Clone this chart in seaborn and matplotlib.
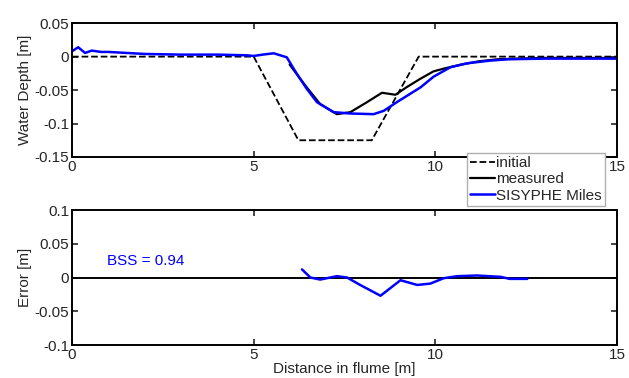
import numpy as np
import pandas as pd
import matplotlib
matplotlib.use("Agg")
import matplotlib.pyplot as plt
import seaborn as sns

# initial bed profile
init_x = [0, 5.0, 6.23, 8.25, 9.54, 15]
init_y = [0, 0, -0.125, -0.125, 0, 0]

# measured
meas_x = [5.99, 6.46, 6.83, 7.29, 7.66, 8.12, 8.53, 8.9, 9.2, 9.59, 9.95, 10.3, 10.7, 11.2, 11.7, 12.2, 13.0, 15.0]
meas_y = [-0.012, -0.046, -0.071, -0.086, -0.083, -0.068, -0.054, -0.057, -0.046, -0.033, -0.022,
          -0.017, -0.012, -0.007, -0.004, -0.003, -0.002, -0.002]

# SISYPHE Miles
sis_x = [0.0, 0.17, 0.36, 0.54, 0.8, 1.0, 2.0, 3.0, 4.0, 4.8, 5.0, 5.25, 5.55, 5.91, 6.19, 6.46, 6.74, 7.2,
         7.66, 8.3, 8.58, 8.94, 9.59, 9.95, 10.41, 10.87, 11.5, 12.0, 13.0, 15.0]
sis_y = [0.008, 0.014, 0.0055, 0.009, 0.007, 0.007, 0.004, 0.003, 0.003, 0.002, 0.001, 0.003, 0.005, -0.001,
         -0.026, -0.048, -0.068, -0.083, -0.085, -0.086, -0.081, -0.068, -0.046, -0.030, -0.016, -0.010,
         -0.006, -0.004, -0.003, -0.003]

# error
err_x = [6.33, 6.56, 6.83, 7.29, 7.57, 7.93, 8.49, 9.04, 9.5, 9.86, 10.23, 10.6, 11.15, 11.8, 12.04, 12.53]
err_y = [0.012, 0.0, -0.003, 0.002, 0.0, -0.011, -0.027, -0.004, -0.011, -0.009, -0.001, 0.002, 0.003, 0.001,
         -0.002, -0.002]

bss_text = "BSS = 0.94"

sns.set_style("ticks")
plt.rcParams['font.family'] = ['Liberation Sans', 'DejaVu Sans']
plt.rcParams['font.size'] = 11

fig = plt.figure(figsize=(6.29, 3.78), dpi=100)
ax1 = fig.add_axes([0.1145, 0.5847, 0.8665, 0.354])
ax2 = fig.add_axes([0.1145, 0.0873, 0.8665, 0.357])

sns.lineplot(x=init_x, y=init_y, ax=ax1, color="black", linestyle="--", lw=1.3, label="initial", legend=False)
sns.lineplot(x=meas_x, y=meas_y, ax=ax1, color="black", lw=1.6, label="measured", legend=False)
sns.lineplot(x=sis_x, y=sis_y, ax=ax1, color="#0000ff", lw=1.8, label="SISYPHE Miles", legend=False)

ax1.set_xlim(0, 15)
ax1.set_ylim(-0.15, 0.05)
ax1.set_yticks([-0.15, -0.1, -0.05, 0, 0.05])
ax1.set_yticklabels(["-0.15", "-0.1", "-0.05", "0", "0.05"])
ax1.set_xticks([0, 5, 10, 15])
ax1.set_ylabel("Water Depth [m]", labelpad=2)

ax2.axhline(0, color="black", lw=1.4)
sns.lineplot(x=err_x, y=err_y, ax=ax2, color="#0000ff", lw=1.8)
ax2.text(0.96, 0.025, bss_text, color="#0000ff", va="center", ha="left", fontsize=11)
ax2.set_xlim(0, 15)
ax2.set_ylim(-0.1, 0.1)
ax2.set_yticks([-0.1, -0.05, 0, 0.05, 0.1])
ax2.set_yticklabels(["-0.1", "-0.05", "0", "0.05", "0.1"])
ax2.set_xticks([0, 5, 10, 15])
ax2.set_xlabel("Distance in flume [m]", labelpad=0)
ax2.set_ylabel("Error [m]", labelpad=2)

for ax in (ax1, ax2):
    for s in ax.spines.values():
        s.set_visible(True)
        s.set_linewidth(1.4)
        s.set_color("black")
    ax.tick_params(direction="in", top=True, right=True, length=4, width=1.2, labelsize=11, pad=2)

h, l = ax1.get_legend_handles_labels()
fig.legend(h, l, loc="upper left", bbox_to_anchor=(467 / 629, 1 - 153 / 378), frameon=True, fancybox=False,
           edgecolor="#b0b0b0", framealpha=1, fontsize=11, handlelength=1.6, handletextpad=0.1,
           borderpad=0.2, labelspacing=0.15, borderaxespad=0)

fig.savefig("out.png", dpi=100)
